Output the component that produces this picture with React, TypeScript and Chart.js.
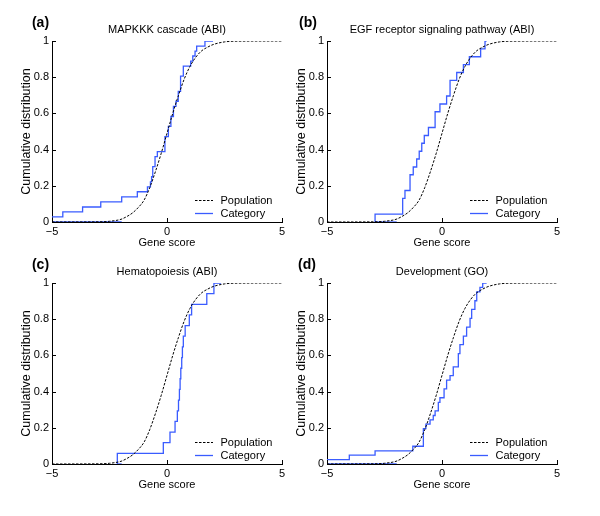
import React, { useEffect, useRef } from 'react';
import { Chart, registerables } from 'chart.js';

Chart.register(...registerables);

// Axis ticks
const X_TICKS = [-5, 0, 5];
const Y_TICKS = [0, 0.2, 0.4, 0.6, 0.8, 1];

// Population CDF (same background population in each panel)
const POP_X = [-5, -3, -2.5, -2, -1.75, -1.5, -1.25, -1, -0.75, -0.5, -0.25, 0, 0.25, 0.5, 0.75, 1, 1.25, 1.5, 1.75, 2, 2.5, 3, 5];
const POP_Y = [0, 0.001, 0.004, 0.015, 0.03, 0.05, 0.08, 0.12, 0.19, 0.28, 0.38, 0.49, 0.6, 0.7, 0.79, 0.86, 0.91, 0.945, 0.965, 0.98, 0.995, 0.999, 1];

// (a) MAPKKK cascade (ABI)
const CAT_A_X = [-5, -4.53, -3.67, -2.88, -1.97, -1.29, -0.85, -0.72, -0.67, -0.62, -0.52, -0.42, -0.09, 0.06, 0.17, 0.28, 0.39, 0.49, 0.59, 0.71, 1.03, 1.12, 1.22, 1.29, 1.65, 2.0];
const CAT_A_Y = [0.028, 0.056, 0.083, 0.111, 0.139, 0.167, 0.194, 0.222, 0.25, 0.306, 0.361, 0.389, 0.472, 0.528, 0.583, 0.639, 0.667, 0.722, 0.806, 0.861, 0.889, 0.917, 0.944, 0.972, 1, 1];
const BASE_A_X = [-5, -1.97];

// (b) EGF receptor signaling pathway (ABI)
const CAT_B_X = [-2.91, -2.91, -1.71, -1.61, -1.39, -1.25, -1.1, -0.99, -0.88, -0.77, -0.59, -0.3, -0.09, 0.2, 0.35, 0.64, 0.93, 1.19, 1.68, 1.87, 1.94];
const CAT_B_Y = [0, 0.043, 0.13, 0.174, 0.261, 0.304, 0.348, 0.391, 0.435, 0.478, 0.522, 0.609, 0.652, 0.696, 0.783, 0.826, 0.87, 0.913, 0.957, 1, 1];
const BASE_B_X = [-2.91, -1.97];

// (c) Hematopoiesis (ABI)
const CAT_C_X = [-2.16, -2.16, -0.16, 0.13, 0.35, 0.45, 0.5, 0.54, 0.57, 0.6, 0.64, 0.67, 0.71, 0.79, 0.97, 1.07, 1.73, 2.04, 2.35];
const CAT_C_Y = [0, 0.059, 0.118, 0.176, 0.235, 0.294, 0.353, 0.412, 0.471, 0.529, 0.588, 0.647, 0.706, 0.765, 0.824, 0.882, 0.941, 1, 1];
const BASE_C_X = [-2.16, -1.97];

// (d) Development (GO)
const CAT_D_X = [-5, -4.03, -2.91, -1.27, -0.81, -0.7, -0.52, -0.38, -0.3, -0.16, -0.09, 0.09, 0.2, 0.35, 0.49, 0.71, 0.78, 0.93, 1.07, 1.22, 1.29, 1.43, 1.51, 1.65, 1.77, 1.94];
const CAT_D_Y = [0.024, 0.049, 0.073, 0.098, 0.195, 0.22, 0.244, 0.268, 0.293, 0.341, 0.366, 0.415, 0.463, 0.488, 0.537, 0.61, 0.659, 0.707, 0.756, 0.805, 0.854, 0.902, 0.951, 0.976, 1, 1];
const BASE_D_X = [-5, -1.97];

const TITLES = ['MAPKKK cascade (ABI)', 'EGF receptor signaling pathway (ABI)', 'Hematopoiesis (ABI)', 'Development (GO)'];
const LETTERS = ['(a)', '(b)', '(c)', '(d)'];
const LEGEND_LABELS = ['Population', 'Category'];
const X_TITLE = 'Gene score';
const Y_TITLE = 'Cumulative distribution';

const FONT = '"Liberation Sans", Arial, Helvetica, sans-serif';
const BLUE = '#3a5cff';

type PanelCfg = {
  title: string;
  letter: string;
  catX: number[];
  catY: number[];
  baseX: number[];
  left: number;
  top: number;
  letterX: number;
};

const PANELS: PanelCfg[] = [
  { title: TITLES[0], letter: LETTERS[0], catX: CAT_A_X, catY: CAT_A_Y, baseX: BASE_A_X, left: 0, top: 0, letterX: 40.5 },
  { title: TITLES[1], letter: LETTERS[1], catX: CAT_B_X, catY: CAT_B_Y, baseX: BASE_B_X, left: 275, top: 0, letterX: 33 },
  { title: TITLES[2], letter: LETTERS[2], catX: CAT_C_X, catY: CAT_C_Y, baseX: BASE_C_X, left: 0, top: 242, letterX: 40.5 },
  { title: TITLES[3], letter: LETTERS[3], catX: CAT_D_X, catY: CAT_D_Y, baseX: BASE_D_X, left: 275, top: 242, letterX: 32 },
];

const fmt = (v: number) => (v < 0 ? '\u2212' + Math.abs(v) : String(v));

function makeDecor(cfg: PanelCfg) {
  return {
    id: 'decor',
    afterDraw(chart: any) {
      const { ctx, chartArea } = chart;
      const { left, right, bottom } = chartArea;
      const xs = chart.scales.x;
      const ys = chart.scales.y;
      ctx.save();
      // inward tick marks
      ctx.strokeStyle = '#000';
      ctx.lineWidth = 1;
      ctx.beginPath();
      X_TICKS.forEach((v) => {
        const px = Math.round(xs.getPixelForValue(v)) + 0.5;
        ctx.moveTo(px, bottom);
        ctx.lineTo(px, bottom - 4);
      });
      Y_TICKS.forEach((v) => {
        const py = Math.round(ys.getPixelForValue(v)) + 0.5;
        ctx.moveTo(left, py);
        ctx.lineTo(left + 4, py);
      });
      ctx.stroke();
      // title
      ctx.fillStyle = '#000';
      ctx.textBaseline = 'middle';
      ctx.textAlign = 'center';
      ctx.font = `11px ${FONT}`;
      ctx.fillText(cfg.title, (left + right) / 2, 29.5);
      // panel letter
      ctx.font = `bold 14px ${FONT}`;
      ctx.fillText(cfg.letter, cfg.letterX, 23.5);
      // legend
      const y1 = bottom - 21.5;
      const y2 = bottom - 8.5;
      ctx.lineWidth = 1;
      ctx.setLineDash([2.5, 1.5]);
      ctx.strokeStyle = '#000';
      ctx.beginPath();
      ctx.moveTo(right - 87, y1);
      ctx.lineTo(right - 69, y1);
      ctx.stroke();
      ctx.setLineDash([]);
      ctx.strokeStyle = BLUE;
      ctx.lineWidth = 1.3;
      ctx.beginPath();
      ctx.moveTo(right - 87, y2);
      ctx.lineTo(right - 69, y2);
      ctx.stroke();
      ctx.textAlign = 'left';
      ctx.font = `11px ${FONT}`;
      ctx.fillStyle = '#000';
      ctx.fillText(LEGEND_LABELS[0], right - 61.5, y1);
      ctx.fillText(LEGEND_LABELS[1], right - 61.5, y2);
      ctx.restore();
    },
  };
}

function Panel({ cfg }: { cfg: PanelCfg }) {
  const ref = useRef<HTMLCanvasElement>(null);
  useEffect(() => {
    const font = { family: FONT, size: 11 };
    const chart = new Chart(ref.current as HTMLCanvasElement, {
      type: 'line',
      data: {
        datasets: [
          {
            label: LEGEND_LABELS[0],
            data: POP_X.map((x, i) => ({ x, y: POP_Y[i] })),
            borderColor: '#000',
            borderWidth: 1,
            borderDash: [2.5, 1.5],
            pointRadius: 0,
            cubicInterpolationMode: 'monotone',
            fill: false,
          },
          {
            label: LEGEND_LABELS[1],
            data: cfg.catX.map((x, i) => ({ x, y: cfg.catY[i] })),
            borderColor: BLUE,
            borderWidth: 1.3,
            pointRadius: 0,
            stepped: 'before',
            fill: false,
          },
          {
            label: 'base',
            data: cfg.baseX.map((x) => ({ x, y: 0 })),
            borderColor: BLUE,
            borderWidth: 1.3,
            pointRadius: 0,
            fill: false,
          },
        ],
      } as any,
      options: {
        animation: false,
        responsive: false,
        maintainAspectRatio: false,
        layout: { padding: { top: 41, right: 18, bottom: 0, left: 0 } },
        plugins: {
          legend: { display: false },
          tooltip: { enabled: false },
          title: { display: false },
        },
        scales: {
          x: {
            type: 'linear',
            min: -5,
            max: 5,
            afterBuildTicks: (s: any) => {
              s.ticks = X_TICKS.map((v) => ({ value: v }));
            },
            afterFit: (s: any) => {
              s.height = 28;
            },
            ticks: {
              callback: (v: any) => fmt(Number(v)),
              padding: 3,
              font,
              color: '#000',
              maxRotation: 0,
              autoSkip: false,
            },
            grid: { display: false, drawTicks: false },
            border: { display: true, color: '#000', width: 1 },
            title: { display: true, text: X_TITLE, font, color: '#000', padding: { top: 0, bottom: 0 } },
          },
          y: {
            type: 'linear',
            min: 0,
            max: 1,
            afterBuildTicks: (s: any) => {
              s.ticks = Y_TICKS.map((v) => ({ value: v }));
            },
            afterFit: (s: any) => {
              s.width = 52;
            },
            ticks: {
              callback: (v: any) => fmt(Number(v)),
              padding: 3,
              font,
              color: '#000',
              autoSkip: false,
            },
            grid: { display: false, drawTicks: false },
            border: { display: true, color: '#000', width: 1 },
            title: { display: true, text: Y_TITLE, font: { family: FONT, size: 12.5 }, color: '#000', padding: { top: 19, bottom: 0 } },
          },
        },
      } as any,
      plugins: [makeDecor(cfg)],
    });
    return () => chart.destroy();
  }, [cfg]);
  return (
    <canvas
      ref={ref}
      width={300}
      height={250}
      style={{ position: 'absolute', left: cfg.left, top: cfg.top, width: 300, height: 250 }}
    />
  );
}

export default function App() {
  return (
    <div style={{ position: 'absolute', left: 0, top: 0, width: 600, height: 516, background: '#fff', overflow: 'hidden' }}>
      {PANELS.map((p) => (
        <Panel key={p.letter} cfg={p} />
      ))}
    </div>
  );
}
